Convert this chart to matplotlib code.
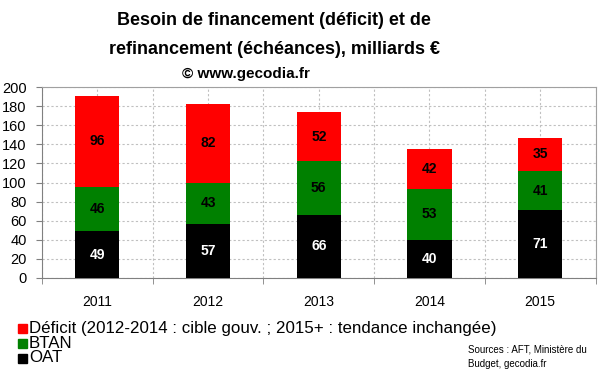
import matplotlib
matplotlib.use("Agg")
import matplotlib.pyplot as plt
import numpy as np
from matplotlib.patches import Rectangle

years = ["2011", "2012", "2013", "2014", "2015"]
oat = [49, 57, 66, 40, 71]
btan = [46, 43, 56, 53, 41]
deficit = [96, 82, 52, 42, 35]
yticks = [0, 20, 40, 60, 80, 100, 120, 140, 160, 180, 200]

plt.rcParams['font.family'] = ['Liberation Sans', 'DejaVu Sans']

fig = plt.figure(figsize=(6.0, 3.72), dpi=100)
ax = fig.add_axes([0.07, 0.2527, 0.9225, 0.5134])

x = np.arange(len(years))
w = 0.4
ax.bar(x, oat, w, color='black', zorder=3)
ax.bar(x, btan, w, bottom=oat, color='#008000', zorder=3)
bot3 = np.array(oat) + np.array(btan)
ax.bar(x, deficit, w, bottom=bot3, color='#FF0000', zorder=3)

for i in range(len(years)):
    ax.text(x[i], oat[i] / 2, str(oat[i]), ha='center', va='center', color='white',
            fontsize=10, fontweight='bold', zorder=4)
    ax.text(x[i], oat[i] + btan[i] / 2, str(btan[i]), ha='center', va='center', color='black',
            fontsize=10, fontweight='bold', zorder=4)
    ax.text(x[i], bot3[i] + deficit[i] / 2, str(deficit[i]), ha='center', va='center', color='black',
            fontsize=10, fontweight='bold', zorder=4)

ax.set_xlim(-0.5, len(years) - 0.5)
ax.set_ylim(0, 200)
ax.set_yticks(yticks)
ax.set_yticklabels([str(v) for v in yticks], fontsize=10.5)
ax.set_xticks(x)
ax.set_xticklabels(years, fontsize=10)
ax.tick_params(axis='x', length=0, pad=12)
ax.set_xticks(np.arange(-0.5, len(years), 1.0), minor=True)
ax.tick_params(axis='x', which='minor', length=4, color='#808080', direction='out')
ax.tick_params(axis='y', length=4, color='#808080', direction='out', pad=7)

ax.grid(axis='y', which='major', linestyle=(0, (2, 2)), color='#c0c0c0', linewidth=0.8, zorder=0)
ax.grid(axis='x', which='both', linestyle=(0, (2, 2)), color='#c0c0c0', linewidth=0.8, zorder=0)
for s in ['top', 'right']:
    ax.spines[s].set_color('#a0a0a0')
    ax.spines[s].set_linewidth(0.8)
ax.spines['left'].set_color('#808080')
ax.spines['bottom'].set_color('#808080')

fig.text(0.457, 0.945, "Besoin de financement (déficit) et de", ha='center', va='center',
         fontsize=13, fontweight='bold')
fig.text(0.457, 0.868, "refinancement (échéances), milliards €", ha='center', va='center',
         fontsize=13, fontweight='bold')
fig.text(0.41, 0.80, "© www.gecodia.fr", ha='center', va='center', fontsize=11, fontweight='bold')

leg_items = [("Déficit (2012-2014 : cible gouv. ; 2015+ : tendance inchangée)", '#FF0000'),
             ("BTAN", '#008000'),
             ("OAT", 'black')]
ys = [328, 343, 358]
for (lab, col), yp in zip(leg_items, ys):
    fig.patches.append(Rectangle((18 / 600, 1 - (yp + 4.5) / 372), 9 / 600, 9 / 372,
                                 transform=fig.transFigure, color=col))
    fig.text(29 / 600, 1 - yp / 372, lab, ha='left', va='center', fontsize=12.2)

fig.text(468 / 600, 1 - 350 / 372, "Sources : AFT, Ministère du", ha='left', va='center', fontsize=7)
fig.text(468 / 600, 1 - 364 / 372, "Budget, gecodia.fr", ha='left', va='center', fontsize=7)

fig.savefig("out.png", dpi=100)
